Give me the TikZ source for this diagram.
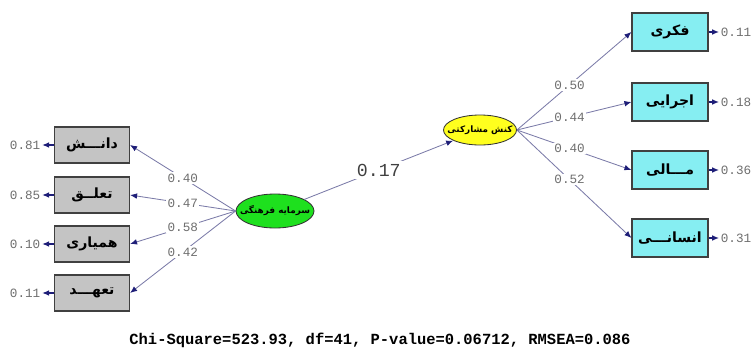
\documentclass[tikz,border=0pt]{standalone}
\usepackage{fontspec}
\usepackage{xcolor}
\usepackage{tikz}
\usetikzlibrary{arrows.meta, shapes.geometric}
\TeXXeTstate=1
\newfontfamily\farsi[Script=Arabic]{DejaVu Sans}
\newfontfamily\lisrel{Liberation Mono}
\definecolor{pathline}{HTML}{7B7BA8}
\definecolor{headblue}{HTML}{1E1E78}
\definecolor{boxgray}{HTML}{C4C4C4}
\definecolor{boxcyan}{HTML}{86EEF2}
\definecolor{latgreen}{HTML}{1EE01E}
\definecolor{latyellow}{HTML}{FFFF1E}
\definecolor{numgray}{HTML}{6E6E6E}
\newcommand{\latname}[1]{\makebox[0pt][c]{\beginR #1\endR}}
\tikzset{
  indicator/.style={rectangle, draw=black!75, line width=0.8pt, minimum width=1.875cm,
    minimum height=0.9cm, font=\farsi\bfseries\fontsize{10}{12}\selectfont},
  latent/.style={ellipse, draw=black!80, line width=0.6pt, inner sep=0pt,
    font=\farsi\bfseries\fontsize{6.3}{7}\selectfont},
  loading/.style={draw=pathline, line width=0.6pt},
  errline/.style={draw=headblue, line width=1pt},
  coef/.style={fill=white, inner sep=1pt, text=numgray, font=\lisrel\fontsize{9}{10}\selectfont},
  errval/.style={inner sep=1pt, text=numgray, font=\lisrel\fontsize{9}{10}\selectfont}
}

\begin{document}
\begin{tikzpicture}[->, >={Latex[length=5pt,width=4pt,color=headblue]}]
    \useasboundingbox (0,0) rectangle (18.875,-8.975);
    % latent variables
    \node[latent, fill=latgreen, minimum width=1.95cm, minimum height=0.85cm] (capital) at (6.875,-5.275) {\latname{سرمایه فرهنگی}};
    \node[latent, fill=latyellow, minimum width=1.825cm, minimum height=0.75cm] (action) at (12.0,-3.25) {\latname{کنش مشارکتی}};
    % left indicators
    \node[indicator, fill=boxgray] (know) at (2.3,-3.625) {\beginR دانـــش\endR};
    \node[indicator, fill=boxgray] (belong) at (2.3,-4.875) {\beginR تعلــق\endR};
    \node[indicator, fill=boxgray] (coop) at (2.3,-6.1) {\beginR همیاری\endR};
    \node[indicator, fill=boxgray] (commit) at (2.3,-7.325) {\beginR تعهـــد\endR};
    % right indicators
    \node[indicator, fill=boxcyan, minimum width=1.9cm, minimum height=0.95cm] (mind) at (16.75,-0.8) {\beginR فکری\endR};
    \node[indicator, fill=boxcyan, minimum width=1.9cm, minimum height=0.95cm] (exec) at (16.75,-2.55) {\beginR اجرایی\endR};
    \node[indicator, fill=boxcyan, minimum width=1.9cm, minimum height=0.95cm] (money) at (16.75,-4.25) {\beginR مـــالی\endR};
    \node[indicator, fill=boxcyan, minimum width=1.9cm, minimum height=0.95cm] (human) at (16.75,-5.95) {\beginR انسانـــی\endR};
    % error variances
    \node[errval, anchor=east] (eknow) at (1.05,-3.625) {0.81};
    \node[errval, anchor=east] (ebelong) at (1.05,-4.875) {0.85};
    \node[errval, anchor=east] (ecoop) at (1.05,-6.1) {0.10};
    \node[errval, anchor=east] (ecommit) at (1.05,-7.325) {0.11};
    \node[errval, anchor=west] (emind) at (17.98,-0.8) {0.11};
    \node[errval, anchor=west] (eexec) at (17.98,-2.55) {0.18};
    \node[errval, anchor=west] (emoney) at (17.98,-4.25) {0.36};
    \node[errval, anchor=west] (ehuman) at (17.98,-5.95) {0.31};

    \path (capital.west) edge[loading] node[coef] {0.40} (know.east)
          (capital.west) edge[loading] node[coef] {0.47} (belong.east)
          (capital.west) edge[loading] node[coef] {0.58} (coop.east)
          (capital.west) edge[loading] node[coef] {0.42} (commit.east);
    \path (action.east) edge[loading] node[coef, pos=0.46] {0.50} (mind.west)
          (action.east) edge[loading] node[coef, pos=0.46] {0.44} (exec.west)
          (action.east) edge[loading] node[coef, pos=0.46] {0.40} (money.west)
          (action.east) edge[loading] node[coef, pos=0.46] {0.52} (human.west);
    \path (capital) edge[loading] node[fill=white, inner sep=2pt, text=black!75,
            font=\lisrel\fontsize{13}{15}\selectfont] {0.17} (action);
    \path (know) edge[errline] (eknow)
          (belong) edge[errline] (ebelong)
          (coop) edge[errline] (ecoop)
          (commit) edge[errline] (ecommit)
          (mind) edge[errline] (emind)
          (exec) edge[errline] (eexec)
          (money) edge[errline] (emoney)
          (human) edge[errline] (ehuman);

    \node[font=\lisrel\bfseries\fontsize{11}{13}\selectfont] (fit) at (9.5,-8.5)
      {Chi-Square=523.93, df=41, P-value=0.06712, RMSEA=0.086};
  \end{tikzpicture}
\end{document}
